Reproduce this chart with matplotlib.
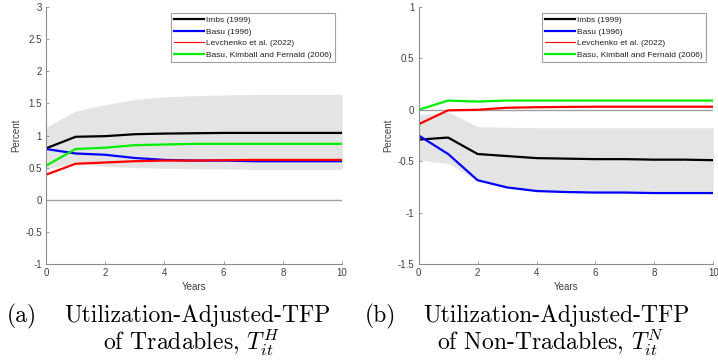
import matplotlib
matplotlib.use('Agg')
import matplotlib.pyplot as plt
from matplotlib.lines import Line2D
from matplotlib.ticker import FuncFormatter

plt.rcParams['mathtext.fontset'] = 'cm'

years = list(range(11))

# panel (a): tradables
imbs_h = [0.80, 0.98, 0.99, 1.02, 1.03, 1.035, 1.04, 1.04, 1.04, 1.04, 1.04]
basu_h = [0.79, 0.72, 0.70, 0.65, 0.62, 0.61, 0.61, 0.60, 0.60, 0.60, 0.60]
levch_h = [0.39, 0.56, 0.58, 0.60, 0.61, 0.61, 0.615, 0.62, 0.62, 0.62, 0.62]
bkf_h = [0.53, 0.79, 0.81, 0.85, 0.86, 0.87, 0.87, 0.87, 0.87, 0.87, 0.87]
band_hi_h = [1.13, 1.38, 1.48, 1.56, 1.60, 1.62, 1.63, 1.64, 1.64, 1.64, 1.64]
band_lo_h = [0.48, 0.57, 0.52, 0.50, 0.49, 0.48, 0.48, 0.47, 0.47, 0.47, 0.47]

# panel (b): non-tradables
imbs_n = [-0.29, -0.27, -0.43, -0.45, -0.47, -0.475, -0.48, -0.48, -0.485, -0.485, -0.49]
basu_n = [-0.25, -0.43, -0.685, -0.755, -0.79, -0.80, -0.805, -0.805, -0.81, -0.81, -0.81]
levch_n = [-0.14, -0.005, 0.0, 0.02, 0.025, 0.028, 0.03, 0.03, 0.03, 0.03, 0.03]
bkf_n = [0.0, 0.09, 0.08, 0.09, 0.09, 0.09, 0.09, 0.09, 0.09, 0.09, 0.09]
band_hi_n = [-0.05, -0.02, -0.165, -0.17, -0.175, -0.175, -0.175, -0.175, -0.175, -0.175, -0.175]
band_lo_n = [-0.49, -0.52, -0.69, -0.76, -0.795, -0.80, -0.80, -0.805, -0.805, -0.805, -0.805]

labels = ['Imbs (1999)', 'Basu (1996)', 'Levchenko et al. (2022)',
          'Basu, Kimball and Fernald (2006)']
colors = ['black', '#0000ff', '#ff0000', '#00ee00']

tick_font = 'Liberation Sans'
axis_gray = '#8c8c8c'
text_gray = '#404040'


def draw_panel(ax, lines, band_lo, band_hi, ylim, yticks):
    ax.fill_between(years, band_lo, band_hi, color='#e4e4e4', lw=0)
    ax.axhline(0, color='#a0a0a0', lw=1)
    for vals, c in zip(lines, colors):
        ax.plot(years, vals, color=c, lw=1.6)
    ax.set_xlim(0, 10)
    ax.set_ylim(*ylim)
    ax.set_xticks(range(0, 11, 2))
    ax.set_yticks(yticks)
    ax.yaxis.set_major_formatter(FuncFormatter(lambda v, p: ('%g' % v).replace('\u2212', '-')))
    for s in ['top', 'right']:
        ax.spines[s].set_visible(False)
    for s in ['left', 'bottom']:
        ax.spines[s].set_color(axis_gray)
        ax.spines[s].set_linewidth(0.8)
    ax.tick_params(direction='in', length=2.5, width=0.6, color=axis_gray,
                   labelsize=7, labelcolor=text_gray, pad=3)
    for lab in ax.get_xticklabels() + ax.get_yticklabels():
        lab.set_fontfamily(tick_font)
    ax.set_xlabel('Years', fontsize=7, color=text_gray, family=tick_font, labelpad=3)
    ax.set_ylabel('Percent', fontsize=7, color=text_gray, family=tick_font, labelpad=3)
    handles = [Line2D([], [], color=colors[0], lw=1.6),
               Line2D([], [], color=colors[1], lw=1.6),
               Line2D([], [], color=colors[2], lw=0.8),
               Line2D([], [], color=colors[3], lw=1.6)]
    leg = ax.legend(handles, labels, loc='upper right', bbox_to_anchor=(0.975, 0.975),
                    prop={'family': tick_font, 'size': 6}, handlelength=3.6,
                    handletextpad=0.3, labelspacing=0.45, borderpad=0.35,
                    fancybox=False, framealpha=1, borderaxespad=0)
    leg.get_frame().set_edgecolor('#a0a0a0')
    leg.get_frame().set_linewidth(0.8)
    for t in leg.get_texts():
        t.set_color('#202020')


fig = plt.figure(figsize=(7.18, 3.61), dpi=100)
ax1 = fig.add_axes([0.0641, 0.2687, 0.4123, 0.7119])
ax2 = fig.add_axes([0.5831, 0.2687, 0.4103, 0.7119])

draw_panel(ax1, [imbs_h, basu_h, levch_h, bkf_h], band_lo_h, band_hi_h,
           (-1, 3), [-1, -0.5, 0, 0.5, 1, 1.5, 2, 2.5, 3])
draw_panel(ax2, [imbs_n, basu_n, levch_n, bkf_n], band_lo_n, band_hi_n,
           (-1.5, 1), [-1.5, -1, -0.5, 0, 0.5, 1])

# captions
cap = dict(family='cmr10', fontsize=17, color='black')
fig.text(7 / 718, 1 - 322 / 361, '(a)', ha='left', va='baseline', **cap)
fig.text(197 / 718, 1 - 322 / 361, 'Utilization-Adjusted-TFP', ha='center', va='baseline', **cap)
fig.text(191 / 718, 1 - 350 / 361, 'of Tradables, $T^{H}_{it}$', ha='center', va='baseline', **cap)
fig.text(365 / 718, 1 - 322 / 361, '(b)', ha='left', va='baseline', **cap)
fig.text(556 / 718, 1 - 322 / 361, 'Utilization-Adjusted-TFP', ha='center', va='baseline', **cap)
fig.text(551 / 718, 1 - 350 / 361, 'of Non-Tradables, $T^{N}_{it}$', ha='center', va='baseline', **cap)

fig.savefig('out.png', dpi=100)
